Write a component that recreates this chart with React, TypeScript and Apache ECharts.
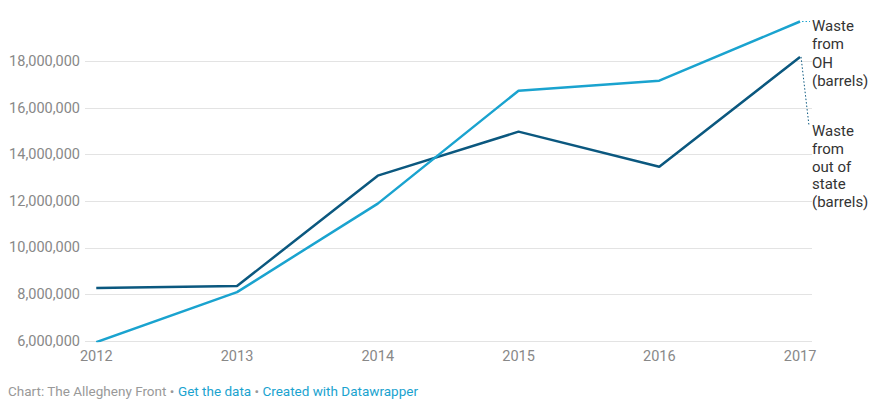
import React, { useEffect, useRef } from "react";
import * as echarts from "echarts";

const years = [2012, 2013, 2014, 2015, 2016, 2017];
const wasteOH = [5950000, 8100000, 11900000, 16750000, 17180000, 19720000];
const wasteOutOfState = [8280000, 8360000, 13100000, 14990000, 13480000, 18200000];
const seriesNames = ["Waste from OH (barrels)", "Waste from out of state (barrels)"];
const labelLines = [
  ["Waste", "from", "OH", "(barrels)"],
  ["Waste", "from", "out of", "state", "(barrels)"],
];

const LIGHT = "#1aa3cf";
const DARK = "#0b587f";
const FONT = "Roboto, 'Noto Sans', sans-serif";

export default function App() {
  const ref = useRef<HTMLDivElement>(null);
  useEffect(() => {
    document.body.style.margin = "0";
    if (!ref.current) return;
    const chart = echarts.init(ref.current, null, { renderer: "svg" });
    const fmt = (v: number) => v.toLocaleString("en-US");
    chart.setOption({
      animation: false,
      grid: { left: 85, right: 68, top: 15, bottom: 63 },
      xAxis: {
        type: "value",
        min: 2011.92,
        max: 2017.085,
        axisLine: { show: false },
        axisTick: { show: false },
        splitLine: { show: false },
        axisLabel: {
          customValues: years,
          formatter: (v: number) => String(v),
          color: "#888",
          fontFamily: FONT,
          fontSize: 14.5,
          margin: 8,
        },
      },
      yAxis: {
        type: "value",
        min: 6000000,
        max: 20000000,
        interval: 2000000,
        axisLine: { show: false },
        axisTick: { show: false },
        splitLine: { show: true, showMaxLine: false, lineStyle: { color: "#e3e3e3", width: 1 } },
        axisLabel: {
          showMaxLabel: false,
          formatter: (v: number) => fmt(v),
          color: "#888",
          fontFamily: FONT,
          fontSize: 14.5,
          margin: 5,
        },
      },
      series: [
        {
          name: seriesNames[0],
          type: "line",
          data: years.map((y, i) => [y, wasteOH[i]]),
          symbol: "none",
          lineStyle: { color: LIGHT, width: 2.5 },
          z: 3,
        },
        {
          name: seriesNames[1],
          type: "line",
          data: years.map((y, i) => [y, wasteOutOfState[i]]),
          symbol: "none",
          lineStyle: { color: DARK, width: 2.5 },
          z: 2,
        },
      ],
    });

    const last = years.length - 1;
    const p1 = chart.convertToPixel({ gridIndex: 0 }, [years[last], wasteOH[last]]) as number[];
    const p2 = chart.convertToPixel({ gridIndex: 0 }, [years[last], wasteOutOfState[last]]) as number[];
    const tx = p1[0] + 12;
    const t1y = p1[1] - 4.5;
    const t2y = p1[1] + 100.5;
    chart.setOption({
      graphic: [
        {
          type: "line",
          shape: { x1: p1[0] + 2, y1: p1[1], x2: tx - 2, y2: p1[1] },
          style: { stroke: LIGHT, lineWidth: 1, lineDash: [1.5, 2] },
        },
        {
          type: "line",
          shape: { x1: p2[0] + 1, y1: p2[1], x2: tx - 3, y2: t2y + 4 },
          style: { stroke: DARK, lineWidth: 1, lineDash: [1.5, 2] },
        },
        {
          type: "text",
          x: tx,
          y: t1y,
          style: {
            text: labelLines[0].join("\n"),
            fill: "#333",
            font: `15px ${FONT}`,
            lineHeight: 18.3,
            textAlign: "left",
            textVerticalAlign: "top",
          },
        },
        {
          type: "text",
          x: tx,
          y: t2y,
          style: {
            text: labelLines[1].join("\n"),
            fill: "#333",
            font: `15px ${FONT}`,
            lineHeight: 17.8,
            textAlign: "left",
            textVerticalAlign: "top",
          },
        },
        {
          type: "text",
          left: 8,
          top: 384,
          style: {
            rich: {
              g: { fill: "#999", fontFamily: FONT, fontSize: 13.5 },
              b: { fill: "#1aa3cf", fontFamily: FONT, fontSize: 13.5 },
            },
            text: "{g|Chart: The Allegheny Front • }{b|Get the data}{g| • }{b|Created with Datawrapper}",
          },
        },
      ],
    });
    return () => chart.dispose();
  }, []);
  return <div ref={ref} style={{ width: 880, height: 404 }} />;
}
